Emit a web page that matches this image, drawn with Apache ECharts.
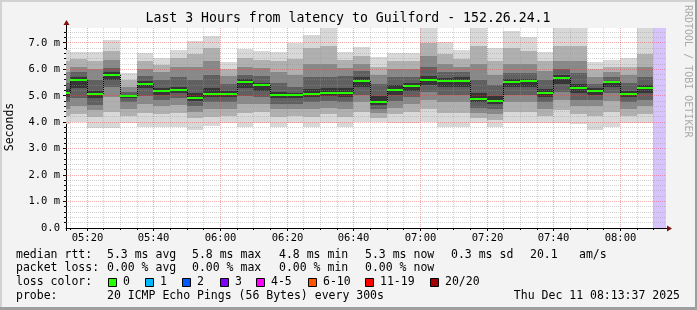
<!DOCTYPE html>
<html><head><meta charset="utf-8">
<script src="https://cdn.jsdelivr.net/npm/echarts@6/dist/echarts.min.js"></script>
<style>html,body{margin:0;padding:0;background:#f3f3f3}#c{width:697px;height:310px}</style>
</head><body><div id="c"></div>
<script>
// ---- data (ms) ----
const sampleEnd = ['05:15','05:20','05:25','05:30','05:35','05:40','05:45','05:50','05:55','06:00','06:05','06:10',
  '06:15','06:20','06:25','06:30','06:35','06:40','06:45','06:50','06:55','07:00','07:05','07:10',
  '07:15','07:20','07:25','07:30','07:35','07:40','07:45','07:50','07:55','08:00','08:05','08:10'];
const median = [5.12,5.60,5.07,5.80,4.99,5.46,5.20,5.23,4.92,5.08,5.08,5.54,5.42,5.03,5.03,5.07,5.12,5.12,
  5.56,4.76,5.23,5.37,5.60,5.56,5.56,4.89,4.82,5.54,5.56,5.11,5.69,5.30,5.20,5.51,5.07,5.30];
const ping20 = [6.73,6.67,6.65,7.11,5.86,6.63,6.45,6.73,7.07,7.26,6.28,6.78,6.70,6.65,6.99,7.30,7.70,6.65,
  6.86,6.46,6.63,6.61,7.80,7.05,6.73,7.70,6.80,7.47,7.24,6.67,7.80,7.70,6.29,6.36,6.42,7.70];
const ping18 = [6.30,6.40,6.30,6.70,5.60,6.30,6.15,6.45,6.60,6.80,6.00,6.45,6.35,6.30,6.40,6.80,6.90,6.35,
  6.50,6.10,6.30,6.30,7.00,6.60,6.40,6.90,6.30,6.80,6.70,6.30,6.90,6.90,6.00,6.10,6.10,6.60];
const ping16 = [5.90,6.10,6.00,6.35,5.35,6.00,5.90,6.10,6.10,6.30,5.75,6.10,6.05,5.90,5.80,6.20,6.20,6.05,
  6.20,5.80,6.00,6.00,6.50,6.20,6.10,6.20,5.80,6.20,6.20,5.95,6.30,6.30,5.70,5.90,5.80,6.10];
const ping14 = [5.50,5.90,5.60,6.05,5.15,5.75,5.60,5.70,5.60,5.80,5.45,5.80,5.75,5.50,5.35,5.70,5.70,5.75,
  5.95,5.45,5.70,5.70,6.10,5.90,5.90,5.60,5.40,5.85,5.85,5.60,6.00,5.85,5.45,5.70,5.50,5.70];
const ping12 = [5.25,5.70,5.20,5.90,5.05,5.55,5.30,5.35,5.10,5.30,5.20,5.62,5.50,5.15,5.10,5.25,5.30,5.30,
  5.70,5.00,5.40,5.48,5.75,5.68,5.70,5.10,5.00,5.65,5.65,5.25,5.80,5.45,5.30,5.58,5.20,5.42];
const ping9  = [4.95,5.30,4.90,5.60,4.90,5.30,5.05,5.10,4.80,4.95,4.95,5.30,5.20,4.90,4.90,4.95,5.00,4.95,
  5.35,4.65,5.05,5.20,5.40,5.35,5.35,4.75,4.70,5.35,5.35,4.95,5.45,5.10,5.05,5.35,4.95,5.10];
const ping7  = [4.75,4.90,4.65,5.35,4.75,5.00,4.85,4.90,4.60,4.75,4.75,5.00,4.95,4.70,4.70,4.75,4.80,4.75,
  5.05,4.50,4.80,4.95,5.15,5.05,5.05,4.55,4.50,5.05,5.05,4.75,5.15,4.85,4.85,5.10,4.75,4.85];
const ping5  = [4.50,4.60,4.45,4.95,4.50,4.70,4.60,4.65,4.40,4.50,4.50,4.70,4.70,4.50,4.50,4.50,4.55,4.50,
  4.75,4.35,4.55,4.70,4.85,4.75,4.75,4.35,4.30,4.75,4.75,4.50,4.85,4.60,4.60,4.80,4.50,4.60];
const ping3  = [4.25,4.30,4.20,4.40,4.25,4.35,4.30,4.35,4.15,4.20,4.25,4.35,4.40,4.20,4.25,4.20,4.30,4.20,
  4.40,4.15,4.30,4.40,4.50,4.35,4.35,4.15,4.10,4.40,4.40,4.25,4.45,4.30,4.25,4.40,4.25,4.30];
const ping1  = [3.95,4.00,3.77,3.77,3.96,3.81,3.81,3.83,3.71,3.86,3.98,3.81,3.98,3.81,3.98,3.81,3.98,3.83,
  4.00,4.00,3.98,3.98,4.00,3.81,3.81,3.96,3.81,3.96,3.98,3.96,3.96,3.93,3.71,3.81,3.98,3.98];
const unknownFrom = '08:10';
const nowTime = '08:13:37';
const rangeHours = 3;
const yTop = 7.567;
const yTickLabels = ['0.0','1.0 m','2.0 m','3.0 m','4.0 m','5.0 m','6.0 m','7.0 m'];
const xTickLabels = ['05:20','05:40','06:00','06:20','06:40','07:00','07:20','07:40','08:00'];
const rttStats = ['5.3 ms avg','5.8 ms max','4.8 ms min','5.3 ms now','0.3 ms sd','20.1','am/s'];
const lossStats = ['0.00 % avg','0.00 % max','0.00 % min','0.00 % now'];
const lossLabels = ['0','1','2','3','4-5','6-10','11-19','20/20'];
const lossColors = ['#26ff00','#00b8ff','#0059ff','#7e00ff','#ff00ff','#ff5500','#ff0000','#a10000'];
const probeText = '20 ICMP Echo Pings (56 Bytes) every 300s';
const dateText = 'Thu Dec 11 08:13:37 2025';
const titleText = 'Last 3 Hours from latency to Guilford - 152.26.24.1';

// ---- helpers ----
function hm(s){const p=s.split(':').map(Number);return new Date(2025,11,11,p[0],p[1],p[2]||0).getTime();}
const MIN=60000, STEP=5*MIN;
const tMax = hm(nowTime), tMin = tMax - rangeHours*3600000;
const smokeData = sampleEnd.map((s,i)=>{const e=hm(s);return [e-STEP,e,ping1[i],ping3[i],ping5[i],ping7[i],ping9[i],ping12[i],ping14[i],ping16[i],ping18[i],ping20[i],median[i], i>0?median[i-1]:median[i]];});
const smokeColors = ['#d8d8d8','#b0b0b0','#888888','#606060','#363636'];
const majorSet = {}; xTickLabels.forEach(s=>{majorSet[hm(s)]=s;});
const gridData = [];
for(let t=hm('05:15'); t<tMax; t+=STEP){ gridData.push([majorSet[t]?1:0,t]); }
for(let k=1;k<=37;k++){ gridData.push([k%5===0?3:2, k/5]); }
const MONO='"DejaVu Sans Mono", monospace';
const px = v => Math.floor(v + 1e-6);

const chart = echarts.init(document.getElementById('c'), null, {renderer:'canvas'});

function renderSmoke(params, api){
  const t0=api.value(0), t1=api.value(1);
  const x0=px(api.coord([t0,0])[0]), x1=px(api.coord([t1,0])[0]);
  const ch=[];
  for(let k=0;k<5;k++){
    const yl=Math.round(api.coord([t0,api.value(2+k)])[1]);
    const yh=Math.round(api.coord([t0,api.value(11-k)])[1]);
    ch.push({type:'rect',shape:{x:x0,y:yh,width:x1-x0,height:yl-yh},style:{fill:smokeColors[k]}});
  }
  return {type:'group',children:ch};
}
function renderMedian(params, api){
  const t0=api.value(0), t1=api.value(1);
  const x0=px(api.coord([t0,0])[0]), x1=px(api.coord([t1,0])[0]);
  const ym=Math.round(api.coord([t0,api.value(12)])[1]);
  const yp=Math.round(api.coord([t0,api.value(13)])[1]);
  return {type:'group',children:[
    {type:'line',shape:{x1:x0+0.5,y1:yp,x2:x0+0.5,y2:ym},style:{stroke:'#000',lineWidth:1,lineDash:[1,1]}},
    {type:'rect',shape:{x:x0,y:ym-1,width:x1-x0,height:2},style:{fill:'#26ff00'}}
  ]};
}
function renderUnknown(params, api){
  const cs=params.coordSys;
  const x0=px(api.coord([api.value(0),0])[0]), x1=Math.round(api.coord([api.value(1),0])[0]);
  return {type:'rect',shape:{x:x0,y:cs.y,width:x1-x0,height:cs.height},style:{fill:'#d8c4fc'}};
}
function renderGrid(params, api){
  const cs=params.coordSys, kind=api.value(0), v=api.value(1);
  const major = (kind===1||kind===3);
  const col = major ? 'rgba(235,70,70,0.45)' : 'rgba(150,150,150,0.42)';
  if(kind<2){
    const x=px(api.coord([v,0])[0])+0.5;
    const ch=[{type:'line',shape:{x1:x,y1:cs.y,x2:x,y2:cs.y+cs.height},style:{stroke:col,lineWidth:1,lineDash:[1,1]}},
      {type:'line',shape:{x1:x,y1:cs.y+cs.height,x2:x,y2:cs.y+cs.height+(major?3:2)},style:{stroke:'#000',lineWidth:1}}];
    if(major){
      ch.push({type:'text',x:x,y:cs.y+cs.height+10.5,style:{text:majorSet[v],font:'10.5px '+MONO,fill:'#000',align:'center',verticalAlign:'middle'}});
    }
    return {type:'group',children:ch};
  } else {
    const y=px(api.coord([tMin,v])[1])+0.5;
    return {type:'group',children:[
      {type:'line',shape:{x1:cs.x,y1:y,x2:cs.x+cs.width,y2:y},style:{stroke:col,lineWidth:1,lineDash:[1,1]}},
      {type:'line',shape:{x1:cs.x-(major?3:2),y1:y,x2:cs.x,y2:y},style:{stroke:'#000',lineWidth:1}}]};
  }
}

const g=[];
// frame
g.push({type:'rect',shape:{x:0,y:0,width:697,height:2},style:{fill:'#d2d2d2'},z:100});
g.push({type:'rect',shape:{x:0,y:0,width:2,height:310},style:{fill:'#d2d2d2'},z:100});
g.push({type:'rect',shape:{x:695,y:0,width:2,height:310},style:{fill:'#9e9e9e'},z:100});
g.push({type:'rect',shape:{x:0,y:307,width:697,height:3},style:{fill:'#9e9e9e'},z:100});
// title etc
g.push({type:'text',x:348,y:19,style:{text:titleText,font:'13.2px '+MONO,fill:'#000',align:'center',verticalAlign:'middle'}});
g.push({type:'text',x:10.5,y:127,rotation:Math.PI/2,style:{text:'Seconds',font:'11.5px '+MONO,fill:'#000',align:'center',verticalAlign:'middle'}});
g.push({type:'text',x:688,y:5,rotation:-Math.PI/2,style:{text:'RRDTOOL / TOBI OETIKER',font:'10px '+MONO,fill:'#aaaaaa',align:'left',verticalAlign:'middle'}});
// axis arrows and axis overhangs
g.push({type:'line',shape:{x1:66.5,y1:28,x2:66.5,y2:23},style:{stroke:'#000',lineWidth:1}});
g.push({type:'polygon',shape:{points:[[66.5,20],[63.5,25],[69.5,25]]},style:{fill:'#7f1010'}});
g.push({type:'line',shape:{x1:666,y1:228.5,x2:668,y2:228.5},style:{stroke:'#000',lineWidth:1}});
g.push({type:'polygon',shape:{points:[[672,228.5],[667,225.5],[667,231.5]]},style:{fill:'#7f1010'}});
g.push({type:'line',shape:{x1:66.5,y1:228,x2:66.5,y2:231},style:{stroke:'#000',lineWidth:1}});
// legend
const LF='11.5px '+MONO;
function txt(s,x,y,align){g.push({type:'text',x:x,y:y,style:{text:s,font:LF,fill:'#000',align:align||'left',verticalAlign:'middle'}});}
txt('median rtt:',16,255);
const rttX=[107,192,279,365,451,530,579];
rttStats.forEach((s,i)=>txt(s,rttX[i],255));
txt('packet loss:',16,268.5);
lossStats.forEach((s,i)=>txt(s,rttX[i],268.5));
txt('loss color:',16,282.5);
const boxX=[108,145,182,220,256,308,365,430];
lossLabels.forEach((s,i)=>{
  g.push({type:'rect',shape:{x:boxX[i]+0.5,y:278.5,width:8,height:8},style:{fill:lossColors[i],stroke:'#000',lineWidth:1}});
  txt(s,boxX[i]+15,282.5);
});
txt('probe:',16,296);
txt(probeText,107,296);
txt(dateText,680,296,'right');

chart.setOption({
  animation:false,
  backgroundColor:'#f3f3f3',
  grid:{left:66,right:31,top:28,bottom:82,show:true,backgroundColor:'#ffffff',borderWidth:0},
  xAxis:{type:'value',min:tMin,max:tMax,
    splitLine:{show:false},
    axisLine:{lineStyle:{color:'#000',width:1}},
    axisTick:{show:false},
    axisLabel:{show:false}},
  yAxis:{type:'value',min:0,max:yTop,interval:1,
    splitLine:{show:false},
    axisLine:{show:true,lineStyle:{color:'#000',width:1}},
    axisTick:{show:false},
    axisLabel:{color:'#000',fontFamily:MONO,fontSize:10.5,margin:6,showMaxLabel:false,
      formatter:function(v){const i=Math.round(v);return Math.abs(v-i)<1e-6?yTickLabels[i]:'';}}},
  graphic:g,
  series:[
    {type:'custom',name:'smoke',renderItem:renderSmoke,data:smokeData,clip:true,z:1,silent:true},
    {type:'custom',name:'unknown',renderItem:renderUnknown,data:[[hm(unknownFrom),tMax]],clip:true,z:1,silent:true},
    {type:'custom',name:'grid',renderItem:renderGrid,data:gridData,clip:false,z:2,silent:true},
    {type:'custom',name:'median',renderItem:renderMedian,data:smokeData,clip:true,z:3,silent:true}
  ]
});
</script></body></html>
